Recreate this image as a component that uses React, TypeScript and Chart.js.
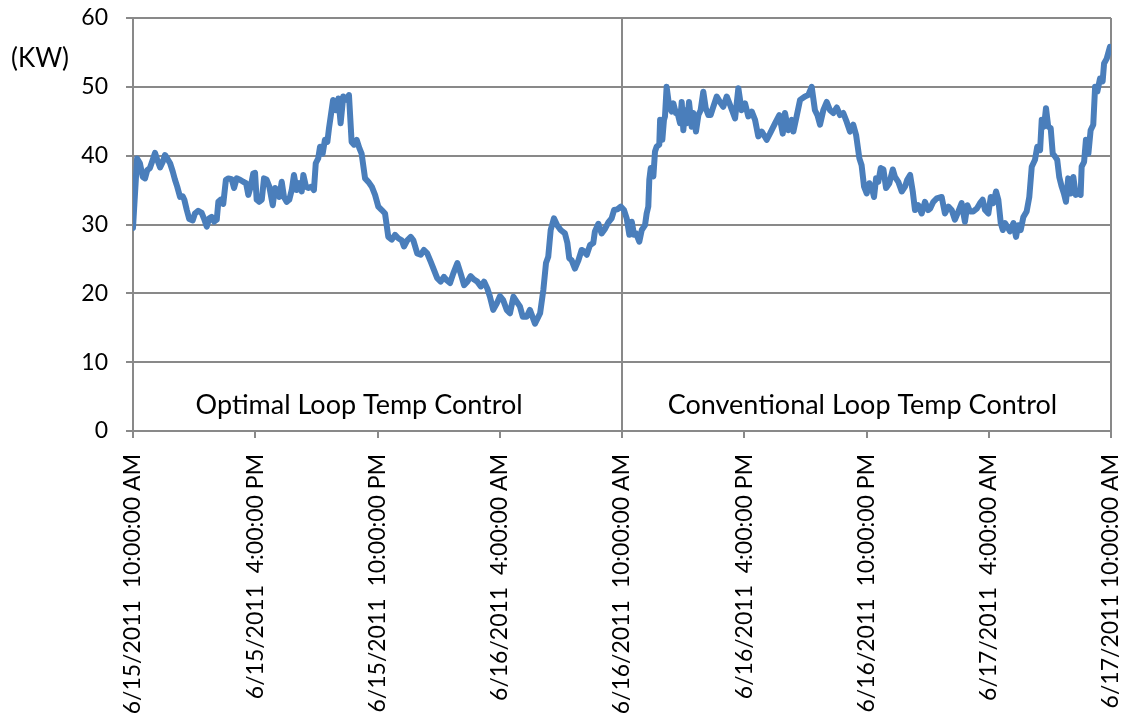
import React, { useEffect, useRef } from "react";
import { Chart, registerables } from "chart.js";

Chart.register(...registerables);

const tickLabels = [
  "6/15/2011  10:00:00 AM",
  "6/15/2011  4:00:00 PM",
  "6/15/2011  10:00:00 PM",
  "6/16/2011  4:00:00 AM",
  "6/16/2011  10:00:00 AM",
  "6/16/2011  4:00:00 PM",
  "6/16/2011  10:00:00 PM",
  "6/17/2011  4:00:00 AM",
  "6/17/2011 10:00:00 AM",
];

const sectionLabels = ["Optimal Loop Temp Control", "Conventional Loop Temp Control"];
const unitLabel = "(KW)";

// hours since 6/15/2011 10:00 AM
const hours = [
  0.0, 0.2, 0.34, 0.48, 0.59, 0.7, 0.83, 0.97, 1.08, 1.19, 1.33, 1.46, 1.57, 1.68, 1.82, 1.95,
  2.06, 2.17, 2.31, 2.44, 2.52, 2.64, 2.76, 2.93, 3.04, 3.2, 3.37, 3.48, 3.62, 3.74, 3.86, 3.98,
  4.11, 4.19, 4.3, 4.43, 4.56, 4.68, 4.84, 4.96, 5.09, 5.25, 5.41, 5.55, 5.66, 5.78, 5.9, 5.99,
  6.07, 6.2, 6.32, 6.43, 6.56, 6.69, 6.86, 6.97, 7.08, 7.18, 7.3, 7.41, 7.54, 7.67, 7.79, 7.9,
  8.03, 8.16, 8.28, 8.36, 8.49, 8.6, 8.77, 8.88, 8.97, 9.09, 9.18, 9.31, 9.42, 9.54, 9.62, 9.82,
  9.96, 10.08, 10.19, 10.32, 10.49, 10.6, 10.73, 10.85, 10.98, 11.11, 11.22, 11.39, 11.55, 11.72, 11.88, 12.04,
  12.21, 12.37, 12.53, 12.7, 12.86, 13.02, 13.19, 13.3, 13.46, 13.63, 13.76, 13.95, 14.12, 14.28, 14.44, 14.61,
  14.77, 14.93, 15.1, 15.26, 15.4, 15.56, 15.72, 15.92, 16.08, 16.25, 16.41, 16.57, 16.74, 16.9, 17.07, 17.23,
  17.39, 17.52, 17.68, 17.85, 18.01, 18.17, 18.34, 18.5, 18.67, 18.83, 18.99, 19.13, 19.32, 19.48, 19.73, 19.98,
  20.14, 20.27, 20.38, 20.5, 20.66, 20.82, 20.99, 21.2, 21.32, 21.41, 21.53, 21.69, 21.86, 22.02, 22.14, 22.27,
  22.43, 22.59, 22.67, 22.84, 23.0, 23.17, 23.33, 23.49, 23.61, 23.77, 23.94, 24.1, 24.23, 24.36, 24.48, 24.59,
  24.69, 24.85, 24.97, 25.13, 25.21, 25.29, 25.34, 25.41, 25.54, 25.62, 25.7, 25.83, 25.87, 25.98, 26.06, 26.11,
  26.19, 26.32, 26.44, 26.52, 26.64, 26.71, 26.85, 26.93, 27.01, 27.09, 27.18, 27.29, 27.42, 27.5, 27.63, 27.75,
  27.86, 27.99, 28.11, 28.24, 28.35, 28.48, 28.65, 28.81, 28.97, 29.14, 29.3, 29.55, 29.71, 29.87, 30.04, 30.2,
  30.37, 30.53, 30.69, 30.86, 31.1, 31.26, 31.51, 31.72, 31.89, 32.0, 32.16, 32.33, 32.41, 32.57, 32.74, 32.98,
  33.14, 33.31, 33.47, 33.59, 33.72, 33.88, 34.05, 34.21, 34.37, 34.54, 34.7, 34.86, 35.03, 35.19, 35.35, 35.49,
  35.65, 35.76, 35.88, 36.01, 36.14, 36.26, 36.37, 36.47, 36.58, 36.7, 36.83, 36.96, 37.12, 37.29, 37.4, 37.56,
  37.73, 37.89, 38.0, 38.14, 38.27, 38.38, 38.54, 38.71, 38.87, 39.03, 39.12, 39.28, 39.45, 39.69, 39.85, 40.02,
  40.18, 40.34, 40.51, 40.67, 40.83, 40.95, 41.08, 41.24, 41.41, 41.57, 41.7, 41.82, 41.98, 42.1, 42.22, 42.36,
  42.47, 42.59, 42.69, 42.8, 42.91, 43.04, 43.21, 43.34, 43.45, 43.57, 43.7, 43.86, 43.99, 44.11, 44.27, 44.38,
  44.52, 44.6, 44.71, 44.81, 44.92, 45.04, 45.14, 45.25, 45.36, 45.46, 45.58, 45.69, 45.79, 45.9, 46.02, 46.15,
  46.27, 46.4, 46.51, 46.56, 46.68, 46.77, 46.89, 47.0, 47.13, 47.22, 47.33, 47.46, 47.59, 47.66, 47.79, 47.95,
  48.0,
];

const kw = [
  29.5, 39.6, 38.9, 36.9, 36.7, 37.9, 38.2, 39.4, 40.4, 39.4, 38.3, 39.1, 40.1, 39.6, 38.9, 37.7,
  36.5, 35.5, 34.0, 34.1, 33.6, 32.1, 30.8, 30.6, 31.6, 32.0, 31.7, 30.9, 29.7, 30.9, 31.1, 30.4,
  30.7, 33.3, 33.6, 33.0, 36.5, 36.7, 36.6, 35.3, 36.7, 36.5, 36.2, 36.0, 34.3, 35.5, 37.4, 37.5,
  33.6, 33.3, 33.6, 36.7, 36.5, 35.5, 32.8, 35.3, 35.0, 34.0, 36.2, 34.0, 33.3, 33.6, 35.0, 37.2,
  35.0, 36.0, 34.8, 37.2, 35.5, 35.3, 35.5, 35.0, 38.9, 39.6, 41.3, 40.3, 42.3, 42.0, 44.0, 48.1,
  46.6, 48.3, 44.7, 48.6, 48.1, 48.8, 42.0, 41.6, 42.3, 41.1, 40.3, 36.7, 36.2, 35.5, 34.3, 32.6,
  32.1, 31.6, 28.2, 27.8, 28.5, 28.0, 27.7, 26.8, 27.7, 28.2, 27.7, 25.8, 25.6, 26.3, 25.8, 24.6,
  23.4, 22.2, 21.7, 22.4, 21.9, 21.5, 22.9, 24.4, 22.9, 21.2, 21.7, 22.5, 22.0, 21.7, 21.0, 21.7,
  20.7, 19.5, 17.6, 18.5, 19.6, 19.0, 17.6, 17.1, 19.5, 18.8, 18.1, 16.6, 16.6, 17.6, 15.6, 17.1,
  20.5, 24.4, 25.3, 29.2, 30.9, 29.9, 29.2, 28.7, 27.3, 25.1, 24.8, 23.6, 24.8, 26.3, 26.1, 25.6,
  27.0, 27.3, 29.0, 30.1, 28.7, 29.4, 30.3, 30.9, 32.1, 32.2, 32.6, 32.1, 30.9, 28.5, 30.4, 28.5,
  28.7, 27.5, 29.2, 29.9, 31.6, 32.6, 36.5, 38.2, 37.0, 40.6, 41.3, 41.6, 45.2, 42.3, 45.2, 45.7,
  50.0, 47.1, 46.4, 47.6, 46.2, 46.4, 44.7, 47.8, 43.7, 46.6, 44.7, 47.8, 44.2, 46.2, 43.5, 45.9,
  46.6, 49.3, 46.9, 45.9, 45.9, 47.1, 48.6, 47.8, 47.1, 48.6, 47.4, 45.4, 49.8, 46.6, 47.6, 45.7,
  46.4, 45.2, 42.8, 43.5, 42.3, 43.2, 44.7, 45.9, 43.2, 46.2, 43.7, 45.2, 43.5, 45.7, 48.1, 48.6,
  48.8, 50.0, 46.6, 45.9, 44.5, 46.6, 47.8, 46.6, 46.2, 47.0, 45.9, 46.2, 44.9, 43.5, 44.5, 43.0,
  39.6, 38.6, 35.5, 34.5, 36.0, 35.3, 34.0, 36.7, 36.2, 38.2, 38.0, 35.3, 36.0, 38.0, 36.9, 36.2,
  34.8, 35.5, 36.5, 37.2, 34.8, 32.1, 32.8, 31.6, 33.3, 32.1, 32.3, 33.3, 33.8, 34.0, 31.6, 32.6,
  32.1, 30.7, 31.9, 33.1, 30.4, 32.8, 31.9, 31.9, 32.3, 33.1, 33.6, 32.1, 31.6, 34.0, 33.1, 34.8,
  33.6, 30.2, 29.2, 30.2, 29.7, 29.0, 30.2, 28.2, 29.9, 29.2, 31.1, 31.9, 34.0, 38.4, 39.4, 41.3,
  40.8, 45.2, 44.2, 46.9, 44.2, 44.0, 40.3, 39.9, 39.4, 36.9, 35.5, 34.5, 33.3, 36.7, 34.5, 36.9,
  34.3, 34.5, 34.3, 38.4, 39.1, 42.3, 40.3, 43.7, 44.5, 50.0, 49.3, 51.2, 50.8, 53.4, 54.1, 55.8,
  55.3,
];

export default function App() {
  const ref = useRef<HTMLCanvasElement>(null);

  useEffect(() => {
    const canvas = ref.current;
    if (!canvas) return;
    const gray = "#898989";
    const family = "Lato, 'Noto Sans', sans-serif";
    const tickSize = 23;
    const textSize = 27;

    const annotations = {
      id: "annotations",
      afterDraw(chart: any) {
        const { ctx, scales } = chart;
        ctx.save();
        ctx.fillStyle = "#000";
        ctx.font = `${textSize}px ${family}`;
        ctx.textBaseline = "middle";
        ctx.textAlign = "center";
        ctx.fillText(sectionLabels[0], scales.x.getPixelForValue(11.1), scales.y.getPixelForValue(3.8));
        ctx.fillText(sectionLabels[1], scales.x.getPixelForValue(35.8), scales.y.getPixelForValue(3.8));
        ctx.font = `26px ${family}`;
        ctx.textAlign = "left";
        ctx.fillText(unitLabel, 11, 59);
        ctx.restore();
      },
    };

    const chart = new Chart(canvas, {
      type: "line",
      data: {
        datasets: [
          {
            data: hours.map((h, i) => ({ x: h, y: kw[i] })),
            borderColor: "#4A7EBB",
            borderWidth: 6,
            pointRadius: 0,
            tension: 0,
            fill: false,
            borderJoinStyle: "round",
            borderCapStyle: "round",
          },
        ],
      },
      options: {
        responsive: false,
        animation: false,
        layout: { padding: { top: 18, right: 21, left: 0, bottom: 0 } },
        plugins: { legend: { display: false }, tooltip: { enabled: false } },
        scales: {
          x: {
            type: "linear",
            min: 0,
            max: 48,
            afterFit: (s: any) => {
              s.height = 290;
              s.paddingLeft = 0;
              s.paddingRight = 0;
            },
            ticks: {
              stepSize: 6,
              autoSkip: false,
              maxRotation: 90,
              minRotation: 90,
              padding: 16,
              color: "#000",
              font: { family, size: tickSize },
              callback: (v: any) => tickLabels[Math.round(Number(v) / 6)] ?? "",
            },
            grid: {
              color: (ctx: any) =>
                ctx.tick && Math.round(ctx.tick.value) % 24 === 0 ? gray : "rgba(0,0,0,0)",
              lineWidth: 2,
              tickLength: 7,
              tickColor: gray,
              tickWidth: 2,
            },
            border: { color: gray, width: 2 },
          },
          y: {
            min: 0,
            max: 60,
            afterFit: (s: any) => {
              s.width = 133;
              s.paddingTop = 0;
              s.paddingBottom = 0;
            },
            ticks: {
              stepSize: 10,
              padding: 18,
              color: "#000",
              font: { family, size: tickSize },
            },
            grid: { color: gray, lineWidth: 2, tickLength: 7 },
            border: { color: gray, width: 2 },
          },
        },
      },
      plugins: [annotations],
    } as any);

    return () => chart.destroy();
  }, []);

  return (
    <div style={{ position: "fixed", left: 0, top: 0, width: 1132, height: 721, background: "#fff" }}>
      <canvas ref={ref} width={1132} height={721} style={{ display: "block" }} />
    </div>
  );
}
